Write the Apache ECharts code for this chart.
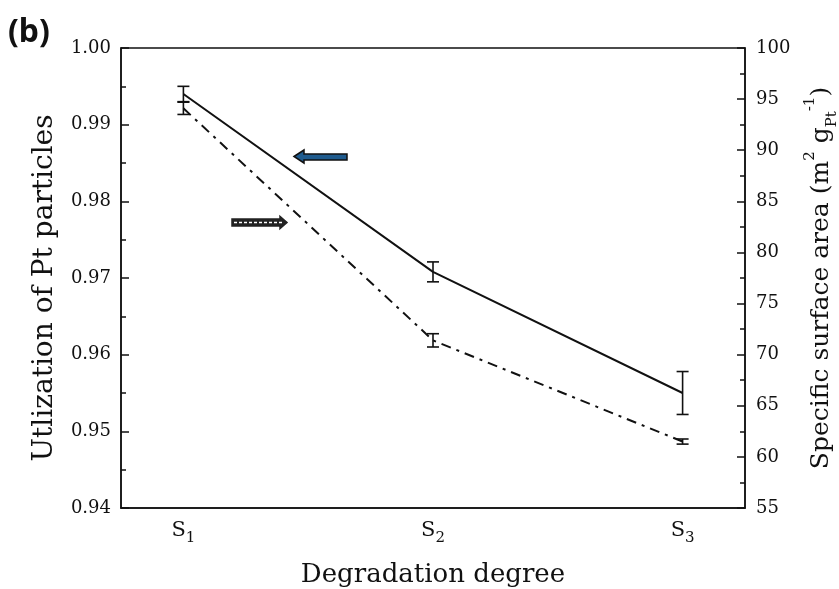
<!DOCTYPE html>
<html>
<head>
<meta charset="utf-8">
<script src="https://cdn.jsdelivr.net/npm/echarts@6/dist/echarts.min.js"></script>
<style>html,body{margin:0;padding:0;background:#fff}#c{width:839px;height:589px}</style>
</head>
<body>
<div id="c"></div>
<script>
// ---- data ----
const categories = ['S1', 'S2', 'S3'];
const utilization = [0.9940, 0.9708, 0.9550];
const utilizationErr = [0.0010, 0.0013, 0.0028];
const surfaceArea = [94.1, 71.4, 61.5];
const surfaceAreaErr = [0.6, 0.65, 0.25];
const leftTicks = [0.94, 0.95, 0.96, 0.97, 0.98, 0.99, 1.00];
const rightTicks = [55, 60, 65, 70, 75, 80, 85, 90, 95, 100];

// category slots: each sample sits in every other slot
const slots = [];
categories.forEach((c, i) => { slots.push(c); if (i < categories.length - 1) slots.push(''); });
const idx = i => i * 2;

const chart = echarts.init(document.getElementById('c'), null, {renderer: 'canvas'});
const serif = 'DejaVu Serif';

function errRender(params, api) {
  const x = api.value(0), y = api.value(1), e = api.value(2);
  const top = api.coord([x, y + e]);
  const bot = api.coord([x, y - e]);
  const hw = 6;
  const st = {stroke: '#111', lineWidth: 1.6};
  return {type: 'group', children: [
    {type: 'line', shape: {x1: top[0], y1: top[1], x2: bot[0], y2: bot[1]}, style: st},
    {type: 'line', shape: {x1: top[0] - hw, y1: top[1], x2: top[0] + hw, y2: top[1]}, style: st},
    {type: 'line', shape: {x1: bot[0] - hw, y1: bot[1], x2: bot[0] + hw, y2: bot[1]}, style: st}
  ]};
}

const option = {
  animation: false,
  backgroundColor: '#fff',
  grid: {left: 121, right: 94, top: 48, bottom: 81, show: true, borderColor: '#111', borderWidth: 1.5,
    backgroundColor: 'transparent', outerBoundsMode: 'none', containLabel: false},
  xAxis: [{
    type: 'category', data: slots, boundaryGap: true, position: 'bottom',
    axisLine: {lineStyle: {color: '#111', width: 1.5}},
    axisTick: {inside: true, length: 7, alignWithLabel: true, interval: 1, lineStyle: {color: '#111', width: 1.5}},
    axisLabel: {interval: 0, margin: 7, color: '#111', fontFamily: serif, fontSize: 21, lineHeight: 22,
      formatter: v => v ? v[0] + '{s|' + v.slice(1) + '}' : '',
      rich: {s: {fontSize: 15, fontFamily: serif, color: '#111', lineHeight: 31, verticalAlign: 'bottom'}}},
    name: 'Degradation degree', nameLocation: 'middle', nameGap: 54,
    nameTextStyle: {fontFamily: serif, fontSize: 26, lineHeight: 26, color: '#111'}
  }, {
    type: 'category', data: slots, boundaryGap: true, position: 'bottom',
    axisLine: {show: false},
    axisTick: {inside: true, length: 4, alignWithLabel: true, interval: 0, lineStyle: {color: '#111', width: 1.5}},
    axisLabel: {show: false}
  }],
  yAxis: [{
    type: 'value', min: 0.94, max: 1.00, interval: 0.01, position: 'left',
    axisLine: {show: true, lineStyle: {color: '#111', width: 1.5}},
    axisTick: {show: true, inside: true, length: 8, lineStyle: {color: '#111', width: 1.5}},
    minorTick: {show: true, splitNumber: 2, length: 5, lineStyle: {color: '#111', width: 1.5}},
    splitLine: {show: false},
    axisLabel: {margin: 10, color: '#111', fontFamily: serif, fontSize: 18, formatter: v => v.toFixed(2)},
    name: 'Utlization of Pt particles', nameLocation: 'middle', nameGap: 61,
    nameTextStyle: {fontFamily: serif, fontSize: 28, lineHeight: 30, color: '#111', padding: [0, 20, 0, 0]}
  }, {
    type: 'value', min: 55, max: 100, interval: 5, position: 'right',
    axisLine: {show: true, lineStyle: {color: '#111', width: 1.5}},
    axisTick: {show: true, inside: true, length: 8, lineStyle: {color: '#111', width: 1.5}},
    minorTick: {show: true, splitNumber: 2, length: 5, lineStyle: {color: '#111', width: 1.5}},
    splitLine: {show: false},
    axisLabel: {margin: 11, color: '#111', fontFamily: serif, fontSize: 18},
    name: 'Specific surface area (m{sup|2} g{sub|Pt}{sup|-1})', nameLocation: 'middle', nameGap: 58, nameRotate: 90,
    nameTextStyle: {fontFamily: serif, fontSize: 25, color: '#111', lineHeight: 27,
      rich: {
        sup: {fontSize: 15, fontFamily: serif, color: '#111', verticalAlign: 'top'},
        sub: {fontSize: 15, fontFamily: serif, color: '#111', lineHeight: 37, verticalAlign: 'bottom'}
      }}
  }],
  graphic: [
    {type: 'text', left: 8, top: 17, style: {text: '(b)', font: 'bold 32px "Noto Sans"', fill: '#111'}},
    {type: 'polygon', shape: {points: [[294, 156.5], [304, 150], [304, 154], [347, 154], [347, 160], [304, 160], [304, 163]]},
      style: {fill: '#1f5b8e', stroke: '#111', lineWidth: 1.5}},
    {type: 'polygon', shape: {points: [[232, 219], [280, 219], [280, 216.5], [287, 222.5], [280, 228.5], [280, 226], [232, 226]]},
      style: {fill: '#222', stroke: '#222', lineWidth: 1.5}},
    {type: 'line', shape: {x1: 234, y1: 222.5, x2: 283, y2: 222.5},
      style: {stroke: '#fff', lineWidth: 1.6, lineDash: [3, 2]}}
  ],
  series: [
    {type: 'line', name: 'utilization', xAxisIndex: 0, yAxisIndex: 0, symbol: 'none',
      data: utilization.map((v, i) => [idx(i), v]),
      lineStyle: {color: '#111', width: 2}},
    {type: 'line', name: 'surface', xAxisIndex: 0, yAxisIndex: 1, symbol: 'none',
      data: surfaceArea.map((v, i) => [idx(i), v]),
      lineStyle: {color: '#111', width: 2, type: [10, 6, 3, 6]}},
    {type: 'custom', xAxisIndex: 0, yAxisIndex: 0, renderItem: errRender, encode: {x: 0, y: 1}, z: 5,
      data: utilization.map((v, i) => [idx(i), v, utilizationErr[i]])},
    {type: 'custom', xAxisIndex: 0, yAxisIndex: 1, renderItem: errRender, encode: {x: 0, y: 1}, z: 5,
      data: surfaceArea.map((v, i) => [idx(i), v, surfaceAreaErr[i]])}
  ]
};
chart.setOption(option);
</script>
</body>
</html>
